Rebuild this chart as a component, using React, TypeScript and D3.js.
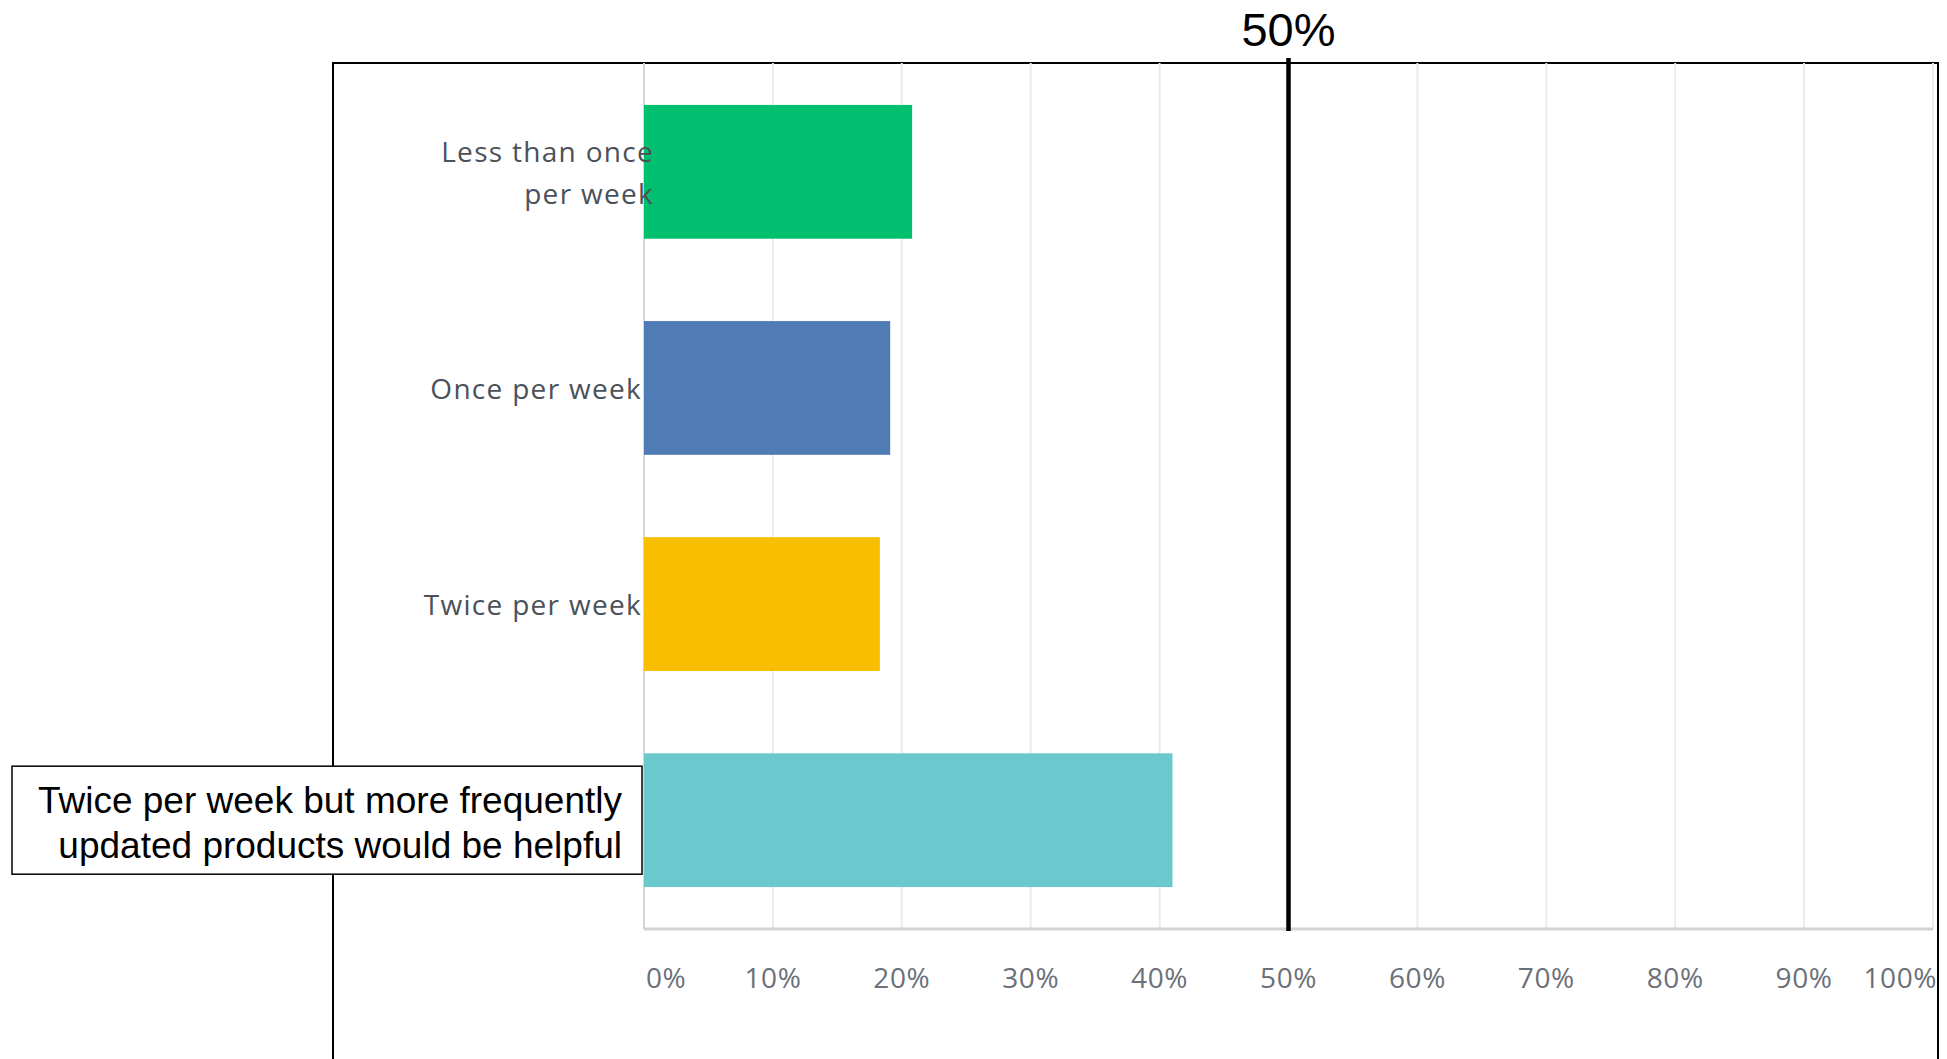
import React from "react";
import * as d3 from "d3";

// Survey answers and the share of respondents (percent) for each
const categories = [
  "Less than once per week",
  "Once per week",
  "Twice per week",
  "Twice per week but more frequently updated products would be helpful",
];
const shares = [20.8, 19.1, 18.3, 41.0];
const barColors = ["#00bf6f", "#507cb6", "#f9be00", "#6bc8cd"];
const tickValues = [0, 10, 20, 30, 40, 50, 60, 70, 80, 90, 100];
const referenceValue = 50;

// Label lines for the axis; the last category is shown in a callout box instead
const axisLabelLines = [["Less than once", "per week"], ["Once per week"], ["Twice per week"], []];
const calloutLines = ["Twice per week but more frequently", "updated products would be helpful"];

const W = 1947;
const H = 1059;
const plot = { left: 644, right: 1933, top: 63, bottom: 929 };
const frame = { left: 333, top: 63, right: 1938 };

const labelFont = "'Open Sans', 'DejaVu Sans', sans-serif";
const arialFont = "'Liberation Sans', Arial, sans-serif";

export default function App() {
  const x = d3.scaleLinear().domain([0, 100]).range([plot.left, plot.right]);
  const y = d3
    .scaleBand<string>()
    .domain(categories)
    .range([plot.top, plot.bottom])
    .paddingInner(0.381)
    .paddingOuter(0.194);

  const bw = y.bandwidth();
  const lastCat = categories[categories.length - 1];
  const lastY = (y(lastCat) as number) + bw / 2;

  return (
    <svg
      width={W}
      height={H}
      viewBox={`0 0 ${W} ${H}`}
      style={{ position: "absolute", left: 0, top: 0, background: "#fff" }}
    >
      <rect x={0} y={0} width={W} height={H} fill="#fff" />

      {/* outer frame, open at the bottom */}
      <path
        d={`M${frame.left},${H + 5} V${frame.top} H${frame.right} V${H + 5}`}
        fill="none"
        stroke="#000"
        strokeWidth={2}
      />

      {/* vertical gridlines */}
      {tickValues.slice(1).map((t) => (
        <line
          key={`g${t}`}
          x1={x(t)}
          x2={x(t)}
          y1={plot.top}
          y2={plot.bottom}
          stroke="#ebebeb"
          strokeWidth={2}
        />
      ))}
      {/* zero axis and baseline */}
      <line x1={x(0)} x2={x(0)} y1={plot.top} y2={plot.bottom} stroke="#d6d6d6" strokeWidth={2} />
      <line x1={x(0)} x2={x(100)} y1={plot.bottom} y2={plot.bottom} stroke="#d2d2d2" strokeWidth={3} />

      {/* bars */}
      {categories.map((c, i) => (
        <rect
          key={c}
          x={x(0)}
          y={y(c)}
          width={x(shares[i]) - x(0)}
          height={bw}
          fill={barColors[i]}
        />
      ))}

      {/* category labels */}
      {categories.map((c, i) => {
        const lines = axisLabelLines[i];
        if (!lines.length) return null;
        const cy = (y(c) as number) + bw / 2;
        const multi = lines.length > 1;
        const ax = multi ? 654 : 642;
        const lh = 42;
        return (
          <text
            key={`l${c}`}
            x={ax}
            textAnchor="end"
            fontFamily={labelFont}
            fontSize={28}
            letterSpacing={1.3}
            fill="#4b5159"
          >
            {lines.map((ln, k) => (
              <tspan key={k} x={ax} y={cy + 11 + (k - (lines.length - 1) / 2) * lh}>
                {ln}
              </tspan>
            ))}
          </text>
        );
      })}

      {/* tick labels */}
      {tickValues.map((t, i) => (
        <text
          key={`t${t}`}
          x={i === 0 ? x(t) + 2 : i === tickValues.length - 1 ? x(t) + 4 : x(t)}
          y={988}
          textAnchor={i === 0 ? "start" : i === tickValues.length - 1 ? "end" : "middle"}
          fontFamily={labelFont}
          fontSize={28}
          letterSpacing={0.6}
          fill="#6b7079"
        >
          {`${t}%`}
        </text>
      ))}

      {/* 50% reference line */}
      <line
        x1={x(referenceValue)}
        x2={x(referenceValue)}
        y1={58}
        y2={931}
        stroke="#000"
        strokeWidth={4.5}
      />
      <text
        x={x(referenceValue)}
        y={46}
        textAnchor="middle"
        fontFamily={arialFont}
        fontSize={47}
        fill="#000"
      >
        {`${referenceValue}%`}
      </text>

      {/* callout box for the last category */}
      <rect
        x={12}
        y={lastY - 54}
        width={630}
        height={108}
        fill="#fff"
        stroke="#000"
        strokeWidth={1.5}
      />
      <text textAnchor="end" fontFamily={arialFont} fontSize={37} fill="#000">
        {calloutLines.map((ln, k) => (
          <tspan key={k} x={622} y={lastY - 7 + k * 45}>
            {ln}
          </tspan>
        ))}
      </text>
    </svg>
  );
}
